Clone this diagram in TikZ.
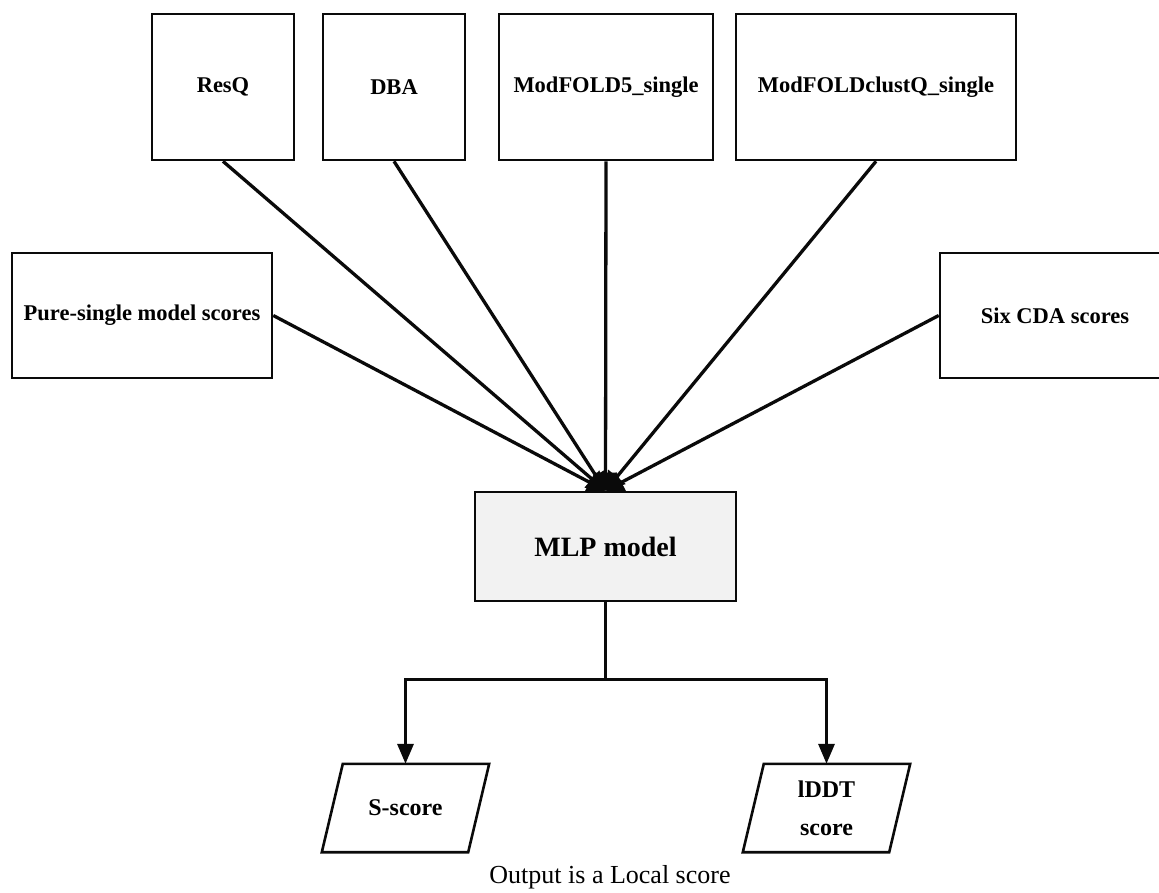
\documentclass[tikz,border=0pt]{standalone}
\usepackage{fontspec}
\setmainfont{Liberation Serif}
\usetikzlibrary{arrows.meta}
\definecolor{lsInk}{HTML}{0A0A0A}
\definecolor{lsGray}{HTML}{F2F2F2}
\tikzset{
  ls box/.style={draw=lsInk, line width=2.6pt, inner sep=0pt, font=\bfseries\fontsize{22.5}{26}\selectfont},
  ls model/.style={ls box, fill=lsGray, minimum width=261pt, minimum height=109pt, font=\bfseries\fontsize{28}{32}\selectfont},
  ls output/.style={inner sep=0pt, minimum width=167pt, minimum height=88pt, align=center,
    font=\bfseries\fontsize{24}{38}\selectfont},
  ls slant/.style={draw=lsInk, line width=2.6pt, line join=miter},
  ls link/.style={draw=lsInk, line width=3.3pt},
  ls feed/.style={ls link, -{Triangle[length=18pt,width=22pt]}},
  ls arrow/.style={ls link, -{Triangle[length=20pt,width=16pt]}},
}

\begin{document}
\begin{tikzpicture}[x=1pt, y=-1pt]
  \useasboundingbox (0,0) rectangle (1159,893);
  % Input scores
  \node[ls box, minimum width=142pt, minimum height=146pt] (resq) at (223,87) {ResQ};
  \node[ls box, minimum width=142pt, minimum height=146pt] (dba) at (394,87) {DBA};
  \node[ls box, minimum width=214pt, minimum height=146pt] (mf5) at (606,87) {ModFOLD5\_single};
  \node[ls box, minimum width=280pt, minimum height=146pt] (mfcq) at (876,87) {ModFOLDclustQ\_single};
  \node[ls box, minimum width=260pt, minimum height=125pt] (pure) at (142,315.5) {Pure-single model scores};
  \node[ls box, minimum width=230pt, minimum height=125pt] (cda) at (1055,315.5) {Six CDA scores};
  % Network
  \node[ls model] (mlp) at (605.5,546.5) {MLP model};
  % Outputs
  \node[ls output] (sscore) at (405.5,808) {S-score};
  \node[ls output] (lddt) at (826.5,808) {lDDT\\score};
  \foreach \out in {sscore,lddt}
    \draw[ls slant] (\out.south west) -- ([xshift=21pt]\out.north west) -- (\out.north east)
      -- ([xshift=-21pt]\out.south east) -- cycle;
  \node[font=\fontsize{26}{30}\selectfont] (caption) at (610,877) {Output is a Local score};

  \foreach \src in {resq,dba,mf5,mfcq}
    \draw[ls feed] (\src.south) -- (mlp.north);
  \draw[ls feed] (pure.east) -- (mlp.north);
  \draw[ls feed] (cda.west) -- (mlp.north);

  \draw[ls link] (mlp.south) -- ++(0,77) coordinate (split);
  \draw[ls arrow] (split) -| (sscore.north);
  \draw[ls arrow] (split) -| (lddt.north);
\end{tikzpicture}
\end{document}
